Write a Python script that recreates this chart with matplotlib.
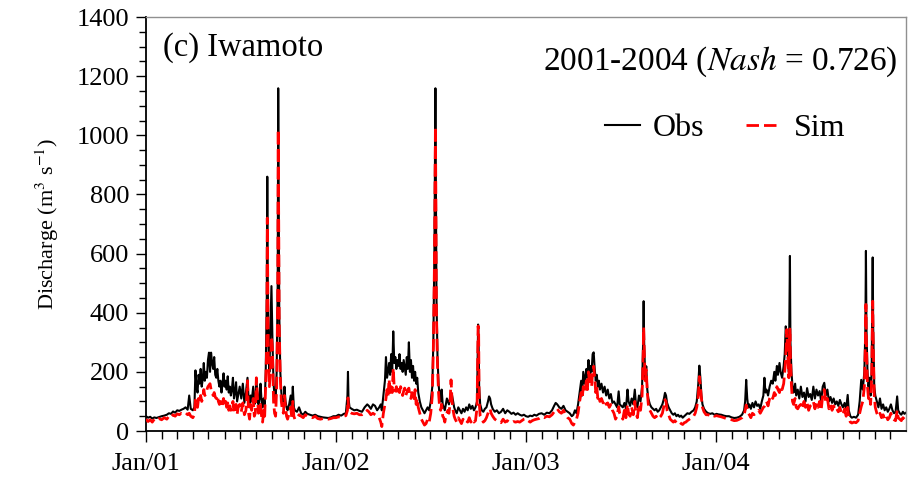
import numpy as np
import pandas as pd
import matplotlib
matplotlib.use("Agg")
import matplotlib.pyplot as plt
import matplotlib.dates as mdates
from matplotlib.ticker import MultipleLocator

plt.rcParams['font.family'] = ['Liberation Serif', 'DejaVu Serif']
plt.rcParams['mathtext.fontset'] = 'stix'

# (day offset from 2001-01-01, observed discharge, simulated discharge)
rec2001 = [
    (0, 50, 40), (4, 45, 32), (8, 48, 38), (12, 42, 30), (16, 46, 40), (20, 44, 36),
    (25, 47, 42), (30, 50, 38), (35, 52, 45), (40, 55, 40), (44, 60, 50), (48, 58, 46),
    (52, 66, 55), (56, 62, 50), (60, 70, 58), (64, 68, 55), (68, 72, 60), (72, 75, 58),
    (76, 80, 62), (80, 72, 55), (83, 120, 60), (86, 75, 50), (90, 70, 45), (93, 80, 55),
    (95, 205, 105), (97, 150, 90), (99, 130, 80), (101, 190, 110), (103, 160, 95),
    (105, 210, 120), (107, 150, 100), (109, 175, 110), (111, 230, 140), (113, 170, 120),
    (115, 200, 125), (117, 180, 140), (119, 240, 150), (121, 265, 155), (123, 200, 160),
    (125, 265, 140), (127, 230, 130), (129, 210, 120), (131, 250, 130), (133, 190, 115),
    (135, 180, 110), (137, 210, 120), (139, 170, 100), (141, 150, 90), (143, 170, 100),
    (145, 130, 80), (147, 160, 95), (149, 195, 110), (151, 150, 85), (153, 170, 100),
    (155, 140, 80), (157, 185, 95), (159, 130, 70), (161, 150, 85), (163, 120, 70),
    (165, 140, 75), (167, 180, 100), (169, 110, 60), (171, 130, 70), (173, 165, 90),
    (175, 100, 55), (177, 120, 80), (180, 150, 90), (183, 110, 65), (186, 160, 95),
    (189, 95, 55), (192, 130, 70), (195, 180, 170), (197, 110, 60), (199, 80, 40),
    (201, 120, 90), (203, 100, 70), (206, 150, 110), (208, 90, 50), (210, 100, 60),
    (212, 170, 180), (214, 130, 120), (216, 90, 60), (218, 110, 70), (220, 160, 90),
    (222, 100, 50), (224, 80, 30), (226, 110, 70), (228, 90, 50), (230, 200, 160),
    (232, 450, 300), (233, 860, 720), (234, 500, 480), (235, 300, 250), (237, 200, 150),
    (239, 350, 200), (241, 490, 320), (243, 300, 280), (245, 160, 100), (247, 120, 60),
    (249, 100, 50), (251, 200, 150), (253, 500, 450), (254, 1159, 1020), (255, 800, 700),
    (256, 400, 350), (258, 200, 180), (260, 130, 100), (262, 100, 70), (264, 90, 60),
    (266, 150, 120), (268, 100, 80), (270, 80, 50), (272, 70, 40), (275, 90, 60),
    (278, 120, 80), (280, 70, 45), (282, 150, 100), (284, 80, 50), (286, 70, 40),
    (290, 65, 42), (294, 80, 55), (298, 60, 50), (302, 55, 45), (306, 65, 55),
    (310, 58, 50), (315, 55, 48), (320, 52, 45), (325, 55, 50), (330, 50, 42),
    (335, 48, 40), (340, 46, 42), (345, 45, 40), (350, 44, 40), (355, 46, 42), (360, 50, 45),
]

rec2002 = [
    (365, 50, 45), (370, 55, 48), (375, 52, 46), (380, 58, 50), (384, 60, 52),
    (387, 120, 70), (388, 200, 112), (389, 110, 80), (391, 80, 65), (395, 75, 60),
    (400, 70, 58), (405, 72, 60), (410, 68, 55), (415, 65, 55), (420, 80, 60),
    (425, 90, 70), (428, 85, 65), (432, 75, 55), (436, 90, 60), (440, 85, 55),
    (444, 70, 50), (448, 80, 45), (451, 90, 30), (453, 70, 15), (456, 120, 60),
    (459, 170, 90), (461, 250, 110), (463, 180, 140), (465, 200, 120), (467, 230, 175),
    (469, 190, 130), (471, 260, 150), (473, 200, 130), (475, 337, 213), (477, 230, 140),
    (479, 250, 135), (481, 210, 150), (483, 240, 125), (485, 220, 140), (487, 260, 130),
    (489, 210, 150), (491, 230, 140), (493, 200, 120), (495, 240, 135), (497, 215, 145),
    (499, 190, 120), (501, 250, 130), (503, 210, 140), (505, 300, 145), (507, 200, 120),
    (509, 240, 110), (511, 180, 130), (513, 220, 120), (515, 170, 100), (517, 200, 140),
    (519, 160, 90), (521, 180, 110), (523, 130, 80), (526, 100, 60), (529, 80, 40),
    (532, 70, 30), (535, 60, 20), (538, 70, 25), (541, 80, 40), (544, 70, 30),
    (547, 100, 60), (550, 150, 120), (552, 300, 280), (554, 600, 550), (556, 1159, 1030),
    (557, 800, 750), (558, 450, 400), (560, 250, 220), (562, 160, 130), (564, 120, 80),
    (566, 100, 70), (568, 140, 90), (570, 90, 50), (572, 80, 45), (574, 70, 30),
    (576, 90, 50), (578, 110, 60), (580, 100, 70), (582, 90, 60), (584, 110, 90),
    (586, 130, 173), (588, 120, 100), (590, 100, 70), (592, 80, 50), (594, 70, 40),
    (597, 60, 30), (600, 80, 45), (603, 70, 35), (606, 60, 25), (609, 75, 40),
    (612, 65, 30), (615, 80, 35), (618, 70, 30), (621, 90, 45), (624, 75, 30),
    (627, 85, 40), (630, 70, 30), (633, 80, 35), (636, 100, 80), (638, 360, 355),
    (639, 300, 340), (640, 150, 100), (642, 90, 50), (645, 70, 40), (648, 65, 30),
    (651, 75, 35), (654, 80, 45), (657, 100, 60), (659, 117, 70), (661, 110, 75),
    (663, 90, 60), (666, 75, 50), (670, 65, 40), (674, 70, 35), (678, 60, 30),
    (682, 65, 28), (686, 75, 40), (690, 60, 30), (694, 70, 35), (698, 65, 30),
    (702, 58, 28), (706, 62, 32), (710, 55, 30), (714, 60, 32), (718, 55, 30),
    (722, 52, 35), (726, 55, 40), (730, 50, 42),
]

rec2003 = [
    (734, 48, 35), (738, 52, 30), (742, 50, 35), (746, 55, 38), (750, 52, 40),
    (755, 58, 42), (760, 60, 48), (765, 55, 45), (770, 62, 50), (775, 60, 48),
    (780, 70, 55), (784, 85, 65), (787, 95, 72), (790, 90, 75), (794, 80, 65),
    (798, 75, 60), (802, 85, 70), (806, 70, 55), (810, 65, 45), (814, 60, 40),
    (818, 50, 25), (821, 55, 20), (824, 70, 30), (827, 60, 40), (830, 90, 60),
    (833, 130, 100), (836, 170, 130), (838, 120, 110), (840, 200, 150), (843, 160, 130),
    (846, 210, 170), (848, 180, 140), (850, 240, 200), (852, 190, 160), (854, 220, 190),
    (856, 200, 150), (858, 260, 200), (860, 266, 219), (862, 210, 180), (864, 170, 130),
    (866, 190, 150), (868, 150, 110), (870, 170, 120), (872, 140, 100), (875, 160, 110),
    (878, 130, 95), (881, 150, 105), (884, 120, 90), (887, 140, 95), (890, 110, 80),
    (893, 125, 90), (896, 95, 70), (899, 100, 60), (902, 90, 40), (905, 80, 50),
    (908, 134, 82), (910, 90, 60), (913, 85, 50), (916, 80, 40), (919, 95, 70),
    (922, 75, 45), (925, 140, 90), (927, 100, 60), (930, 85, 50), (933, 110, 80),
    (936, 90, 55), (939, 140, 100), (941, 95, 60), (944, 80, 45), (947, 120, 90),
    (950, 100, 70), (953, 150, 120), (955, 300, 250), (956, 439, 350), (957, 300, 280),
    (959, 180, 170), (961, 219, 207), (963, 140, 130), (965, 110, 90), (968, 90, 70),
    (971, 80, 60), (974, 75, 50), (977, 70, 45), (980, 75, 50), (983, 65, 40),
    (986, 70, 45), (989, 80, 50), (992, 90, 60), (995, 110, 85), (997, 129, 106),
    (999, 120, 100), (1001, 95, 70), (1004, 80, 55), (1007, 70, 40), (1010, 60, 35),
    (1013, 55, 30), (1016, 60, 35), (1019, 50, 28), (1022, 55, 25), (1025, 48, 30),
    (1028, 52, 25), (1031, 45, 22), (1034, 50, 28), (1037, 55, 30), (1040, 60, 35),
    (1044, 58, 40), (1048, 65, 45), (1052, 70, 50), (1055, 80, 60), (1058, 100, 80),
    (1061, 160, 120), (1063, 221, 184), (1065, 180, 150), (1067, 120, 110), (1069, 90, 80),
    (1072, 75, 65), (1076, 65, 55), (1080, 60, 55), (1084, 58, 52), (1088, 60, 55),
    (1092, 55, 50),
]

rec2004 = [
    (1096, 58, 52), (1100, 56, 50), (1105, 55, 48), (1110, 52, 45), (1115, 50, 42),
    (1120, 50, 40), (1125, 46, 38), (1130, 44, 35), (1135, 45, 36), (1140, 48, 40),
    (1145, 55, 45), (1149, 70, 55), (1151, 100, 70), (1153, 173, 88), (1155, 110, 75),
    (1157, 80, 60), (1159, 90, 55), (1162, 75, 45), (1165, 95, 60), (1168, 80, 55),
    (1171, 100, 60), (1174, 85, 65), (1177, 90, 70), (1180, 75, 60), (1183, 100, 70),
    (1186, 120, 80), (1188, 180, 83), (1190, 130, 90), (1192, 140, 100), (1195, 120, 85),
    (1198, 150, 110), (1201, 170, 120), (1204, 160, 110), (1207, 200, 130), (1209, 170, 120),
    (1212, 220, 150), (1214, 190, 140), (1217, 230, 130), (1219, 200, 150), (1222, 180, 140),
    (1225, 220, 160), (1227, 260, 200), (1229, 354, 250), (1231, 320, 343), (1233, 270, 250),
    (1235, 200, 180), (1237, 592, 345), (1238, 300, 250), (1240, 200, 150), (1242, 150, 100),
    (1244, 130, 90), (1247, 160, 110), (1249, 120, 80), (1252, 140, 75), (1255, 110, 85),
    (1258, 150, 90), (1261, 115, 75), (1264, 130, 100), (1267, 100, 80), (1270, 145, 95),
    (1273, 115, 70), (1276, 125, 85), (1279, 105, 90), (1282, 150, 100), (1285, 110, 75),
    (1288, 140, 95), (1291, 120, 80), (1294, 135, 100), (1297, 100, 70), (1300, 150, 120),
    (1303, 163, 140), (1306, 120, 95), (1309, 140, 110), (1312, 100, 75), (1315, 115, 90),
    (1318, 95, 70), (1321, 110, 85), (1324, 90, 70), (1327, 100, 75), (1330, 85, 65),
    (1333, 105, 80), (1336, 90, 60), (1339, 80, 55), (1342, 95, 75), (1345, 75, 50),
    (1348, 122, 80), (1350, 70, 45), (1353, 50, 30), (1356, 45, 27), (1360, 48, 30),
    (1364, 45, 28), (1368, 55, 35), (1371, 100, 60), (1374, 173, 83), (1377, 140, 100),
    (1380, 200, 150), (1382, 350, 300), (1383, 609, 428), (1384, 350, 300), (1386, 200, 150),
    (1388, 150, 110), (1390, 180, 120), (1392, 120, 90), (1394, 200, 180), (1396, 587, 439),
    (1397, 350, 300), (1399, 150, 120), (1401, 120, 80), (1404, 100, 60), (1407, 80, 50),
    (1410, 110, 60), (1413, 75, 45), (1416, 90, 55), (1419, 70, 40), (1422, 80, 50),
    (1425, 65, 38), (1428, 75, 45), (1431, 90, 60), (1434, 70, 42), (1437, 60, 38),
    (1440, 65, 35), (1443, 117, 70), (1445, 70, 45), (1448, 60, 40), (1451, 55, 35),
    (1454, 65, 45), (1457, 58, 40), (1460, 62, 45),
]

station_label = "(c) Iwamoto"
stats_label = "2001-2004 ($\\mathit{Nash}$ = 0.726)"
ylabel = "Discharge (m$^{3}$ s$^{\\mathrm{-1}}$)"

records = rec2001 + rec2002 + rec2003 + rec2004
days = np.array([r[0] for r in records])
obs = np.array([r[1] for r in records], dtype=float)
sim = np.array([r[2] for r in records], dtype=float)
dates = pd.Timestamp("2001-01-01") + pd.to_timedelta(days, unit="D")

fig = plt.figure(figsize=(9.10, 4.82), dpi=100)
ax = fig.add_axes([146 / 910, 1 - 431 / 482, 760 / 910, 414 / 482])

ax.plot(dates, obs, color="black", lw=1.5, label="Obs", zorder=2)
ax.plot(dates, sim, color="#ff0000", lw=2.0, dashes=(4.5, 1.8), label="Sim", zorder=3)

ax.set_ylim(0, 1400)
ax.set_xlim(pd.Timestamp("2001-01-01"), pd.Timestamp("2004-12-31"))

ax.yaxis.set_major_locator(MultipleLocator(200))
ax.yaxis.set_minor_locator(MultipleLocator(50))
ax.xaxis.set_major_locator(mdates.YearLocator())
ax.xaxis.set_major_formatter(mdates.DateFormatter("%b/%y"))
ax.xaxis.set_minor_locator(mdates.MonthLocator())

ax.tick_params(axis="y", which="major", direction="out", length=7, width=1,
               labelsize=19, pad=5, right=False)
ax.tick_params(axis="y", which="minor", direction="out", length=5, width=1, right=False)
ax.tick_params(axis="x", which="major", direction="out", length=8, width=1,
               labelsize=19, pad=8, top=False)
ax.tick_params(axis="x", which="minor", direction="out", length=5.5, width=1, top=False)

for s in ("top", "right"):
    ax.spines[s].set_color("#909090")
    ax.spines[s].set_linewidth(1.0)
for s in ("left", "bottom"):
    ax.spines[s].set_color("black")
    ax.spines[s].set_linewidth(1.3)

ax.set_ylabel(ylabel, fontsize=16)
ax.yaxis.set_label_coords(-0.112, 0.5)

ax.text(0.022, 0.925, station_label, transform=ax.transAxes, fontsize=23.5,
        ha="left", va="center")
ax.text(0.989, 0.893, stats_label, transform=ax.transAxes, fontsize=24,
        ha="right", va="center")

leg = ax.legend(loc="center", bbox_to_anchor=(0.762, 0.73), ncol=2, frameon=False,
                fontsize=23, handlelength=1.1, handletextpad=0.4, columnspacing=1.3,
                borderpad=0, borderaxespad=0)

fig.savefig("out.png", dpi=100)
